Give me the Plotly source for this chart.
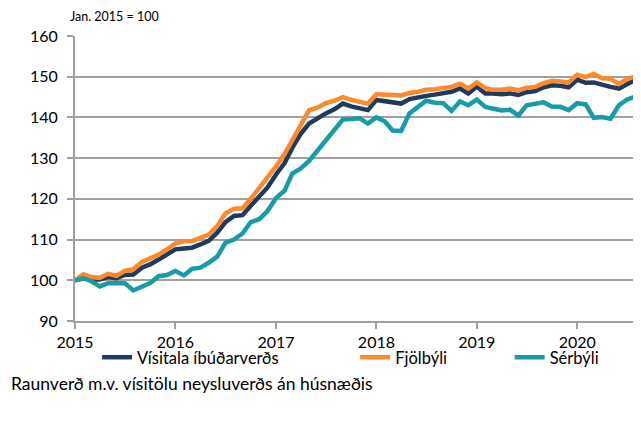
import pandas as pd
import plotly.graph_objects as go

# monthly index values, Jan 2015 - Aug 2020 (Jan 2015 = 100)
months = pd.date_range('2015-01-01', periods=68, freq='MS')

visitala = [
    100.0, 100.5, 100.2, 100.2, 100.8, 100.5, 101.3, 101.4, 103.1, 103.9, 105.1, 106.3,
    107.6, 107.8, 108.0, 108.8, 109.7, 111.7, 114.3, 115.8, 116.0, 118.3, 120.8, 122.8,
    126.0, 128.8, 132.5, 136.0, 138.5, 139.8, 141.0, 142.0, 143.4, 142.7, 142.3, 141.8,
    144.3, 144.0, 143.6, 143.4, 144.5, 145.0, 145.3, 145.6, 146.0, 146.3, 147.1, 145.9,
    147.6, 145.9, 145.9, 145.7, 145.9, 145.5, 146.2, 146.5, 147.4, 147.9, 147.8, 147.4,
    149.3, 148.5, 148.6, 147.9, 147.5, 147.1, 148.3, 149.3,
]
fjolbyli = [
    100.0, 101.5, 100.8, 100.6, 101.6, 101.1, 102.3, 102.7, 104.5, 105.4, 106.3, 107.6,
    109.0, 109.6, 109.6, 110.4, 111.2, 113.3, 116.4, 117.6, 117.7, 120.0, 122.6, 125.0,
    128.0, 131.0, 134.5, 138.3, 141.8, 142.4, 143.5, 144.1, 145.0, 144.3, 143.9, 143.4,
    145.7, 145.7, 145.5, 145.4, 146.0, 146.3, 146.8, 146.9, 147.2, 147.5, 148.3, 147.1,
    148.6, 147.2, 146.8, 146.8, 147.1, 146.7, 147.3, 147.5, 148.4, 149.0, 148.8, 148.6,
    150.5, 149.9, 150.7, 149.6, 149.5, 148.2, 149.5, 150.1,
]
serbyli = [
    100.0, 100.5, 99.8, 98.5, 99.3, 99.4, 99.3, 97.5, 98.5, 99.3, 101.0, 101.3,
    102.3, 101.2, 102.8, 103.1, 104.3, 105.8, 109.2, 110.0, 111.5, 114.3, 115.0, 117.0,
    120.2, 122.0, 126.2, 127.5, 129.3, 131.8, 134.5, 136.8, 139.5, 139.6, 139.8, 138.5,
    140.0, 139.0, 136.8, 136.7, 141.0, 142.6, 144.1, 143.6, 143.5, 141.6, 143.9, 143.0,
    144.4, 142.6, 142.2, 141.7, 141.9, 140.5, 143.0, 143.3, 143.7, 142.7, 142.6, 141.8,
    143.5, 143.2, 139.9, 140.1, 139.7, 143.0, 144.4, 145.2,
]

FONT = 'Lato'
GRID = '#a0a0a0'

fig = go.Figure()
fig.add_trace(go.Scatter(x=months, y=visitala, mode='lines', name='Vísitala íbúðarverðs',
                         line=dict(color='#1f3a5c', width=4.5), legend='legend'))
fig.add_trace(go.Scatter(x=months, y=fjolbyli, mode='lines', name='Fjölbýli',
                         line=dict(color='#fb8a2c', width=4.5), legend='legend2'))
fig.add_trace(go.Scatter(x=months, y=serbyli, mode='lines', name='Sérbýli',
                         line=dict(color='#179ba7', width=4.5), legend='legend3'))

legend_style = dict(orientation='h', yanchor='middle', y=-0.128, xanchor='left',
                    font=dict(family=FONT, size=16.5, color='#000'),
                    bgcolor='rgba(0,0,0,0)')

# the page body has an 8px margin, so the figure is 8px smaller and margins shifted
fig.update_layout(
    width=633, height=413,
    margin=dict(l=67, r=0, t=28, b=100, autoexpand=False),
    plot_bgcolor='white', paper_bgcolor='white',
    font=dict(family=FONT, size=15, color='#000'),
    showlegend=True,
    legend=dict(legend_style, x=0.039),
    legend2=dict(legend_style, x=0.495),
    legend3=dict(legend_style, x=0.768),
    annotations=[
        dict(text='Jan. 2015 = 100', xref='paper', yref='paper', x=-0.012, y=1.068,
             xanchor='left', yanchor='middle', showarrow=False,
             font=dict(family=FONT, size=12.5, color='#000')),
        dict(text='Raunverð m.v. vísitölu neysluverðs án húsnæðis', xref='paper', yref='paper',
             x=-0.117, y=-0.218, xanchor='left', yanchor='middle', showarrow=False,
             font=dict(family=FONT, size=17.5, color='#000')),
    ],
)
fig.update_xaxes(
    type='date', range=['2015-01-01', '2020-08-20'],
    tick0='2015-01-01', dtick='M12', tickformat='%Y',
    showgrid=False, showline=True, linecolor=GRID, linewidth=2,
    ticks='outside', ticklen=6, tickwidth=2, tickcolor=GRID,
    tickfont=dict(family=FONT, size=16, color='#000'),
)
fig.update_yaxes(
    range=[90, 160], dtick=10,
    showgrid=True, gridcolor=GRID, gridwidth=2,
    showline=True, linecolor=GRID, linewidth=2,
    ticks='outside', ticklen=6, tickwidth=2, tickcolor=GRID,
    ticklabelstandoff=6,
    tickfont=dict(family=FONT, size=16, color='#000'),
    zeroline=False,
)

fig.write_html("out.html")
